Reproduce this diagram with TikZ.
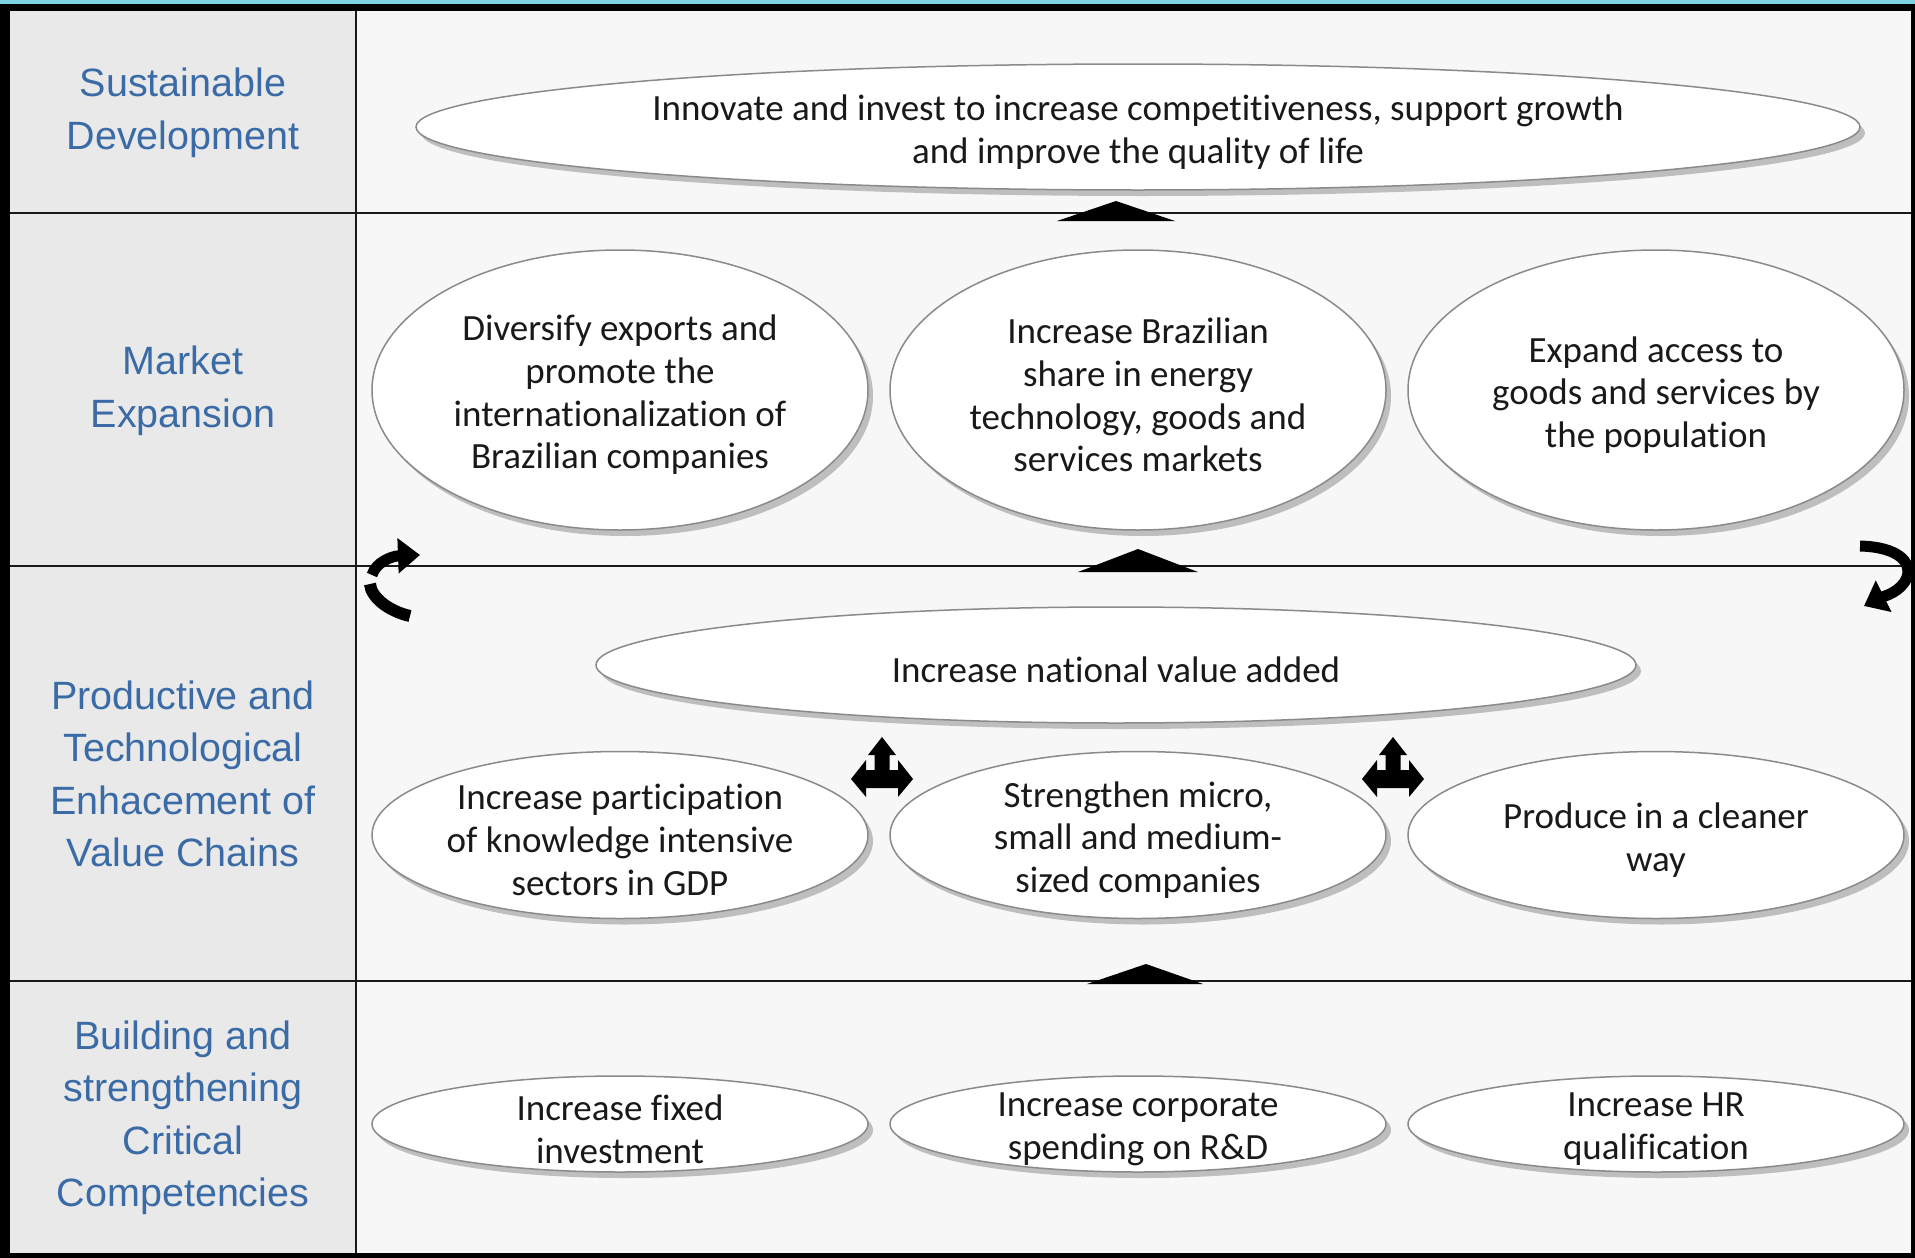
\documentclass[tikz,border=0pt]{standalone}
\usepackage{fontspec}
\setmainfont{Carlito}[Ligatures={NoCommon,TeX}]
\newfontfamily\labfont{Liberation Sans}
\usetikzlibrary{shapes.geometric,shadows,arrows.meta}
\definecolor{labbg}{HTML}{E9E9E9}
\definecolor{cbg}{HTML}{F7F7F7}
\definecolor{labblue}{HTML}{3A6BA6}
\definecolor{ellgray}{HTML}{8A8A8A}
\definecolor{topcyan}{HTML}{7FD3E3}
\begin{document}
\begin{tikzpicture}[x=1pt,y=-1pt,
 ell/.style={ellipse, draw=ellgray, line width=1.5pt, fill=white, inner sep=0pt,
   drop shadow={shadow xshift=5pt, shadow yshift=-6pt, fill=black!40, opacity=0.6}},
 etext/.style={align=center, font=\fontsize{37}{42.7}\selectfont, inner sep=0pt, text=black!90, yshift=-5pt},
 lab/.style={align=center, font=\labfont\fontsize{39.5}{52.5}\selectfont, text=labblue},
 rowrule/.style={line width=2pt, black!90},
 uptri/.style={fill=black},
 curvarr/.style={line width=11pt, black, -{Triangle[length=22pt,width=34pt]}},
 curvseg/.style={line width=12pt, black}]
\useasboundingbox (0,0) rectangle (1915,1258);
% frame and backgrounds
\fill[black] (0,0) rectangle (1915,1258);
\fill[topcyan] (0,0) rectangle (1915,4);
\fill[labbg] (10,11) rectangle (356,1253);
\fill[cbg] (356,11) rectangle (1911,1253);
% grid lines
\draw[rowrule] (10,213) -- (1911,213);
\draw[rowrule] (10,566) -- (1911,566);
\draw[rowrule] (10,981) -- (1911,981);
\draw[rowrule] (356,11) -- (356,1253);
% row labels
\node[lab] (l1) at (183,113) {Sustainable\\Development};
\node[lab] (l2) at (183,391) {Market\\Expansion};
\node[lab] (l3) at (183,774) {Productive and\\Technological\\Enhacement of\\Value Chains};
\node[lab] (l4) at (183,1118) {Building and\\strengthening\\Critical\\Competencies};
% up triangles
\fill[uptri] (1057,221) -- (1116,201) -- (1175,221) -- cycle;
\fill[uptri] (1078,572) -- (1138,549) -- (1198,572) -- cycle;
\fill[uptri] (1087,984) -- (1146,964) -- (1203,984) -- cycle;
% ellipses
\node[ell, minimum width=1444pt, minimum height=126pt] (sd) at (1138,127) {};
\node[etext] (sdt) at (sd) {Innovate and invest to increase competitiveness, support growth\\and improve the quality of life};
\node[ell, minimum width=496pt, minimum height=280pt] (m1) at (620,390) {};
\node[etext] (m1t) at (m1) {Diversify exports and\\promote the\\internationalization of\\Brazilian companies};
\node[ell, minimum width=496pt, minimum height=280pt] (m2) at (1138,390) {};
\node[etext] (m2t) at (m2) {Increase Brazilian\\share in energy\\technology, goods and\\services markets};
\node[ell, minimum width=496pt, minimum height=280pt] (m3) at (1656,390) {};
\node[etext] (m3t) at (m3) {Expand access to\\goods and services by\\the population};
\node[ell, minimum width=1040pt, minimum height=116pt] (nva) at (1116,665) {};
\node[etext] (nvat) at (nva) {Increase national value added};
\node[ell, minimum width=496pt, minimum height=167pt] (p1) at (620,835) {};
\node[etext] (p1t) at (p1) {Increase participation\\of knowledge intensive\\sectors in GDP};
\node[ell, minimum width=496pt, minimum height=167pt] (p2) at (1138,835) {};
\node[etext] (p2t) at (p2) {Strengthen micro,\\small and medium-\\sized companies};
\node[ell, minimum width=496pt, minimum height=167pt] (p3) at (1656,835) {};
\node[etext] (p3t) at (p3) {Produce in a cleaner\\way};
\node[ell, minimum width=496pt, minimum height=96pt] (b1) at (620,1124) {};
\node[etext] (b1t) at (b1) {Increase fixed\\investment};
\node[ell, minimum width=496pt, minimum height=96pt] (b2) at (1138,1124) {};
\node[etext] (b2t) at (b2) {Increase corporate\\spending on R\&D};
\node[ell, minimum width=496pt, minimum height=96pt] (b3) at (1656,1124) {};
\node[etext] (b3t) at (b3) {Increase HR\\qualification};
% cross arrows
\foreach \cx in {882,1393}{
  \fill[black] (\cx,737) -- ++(14,18) -- ++(-6.5,0) -- ++(0,15) -- ++(8.5,0) -- ++(0,-10)
    -- ++(15,19) -- ++(-15,18) -- ++(0,-9) -- ++(-32,0) -- ++(0,9) -- ++(-15,-18)
    -- ++(15,-19) -- ++(0,10) -- ++(8.5,0) -- ++(0,-15) -- ++(-6.5,0) -- cycle;
}
% curved arrows
\draw[curvseg] (410,616) .. controls (388,611) and (371,597) .. (370,584);
\draw[curvarr] (372,575) .. controls (376,562) and (392,556) .. (420,555);
\draw[curvarr] (1860,546) .. controls (1898,547) and (1912,562) .. (1907,577) .. controls (1902,592) and (1882,597) .. (1864,606);
\end{tikzpicture}
\end{document}
